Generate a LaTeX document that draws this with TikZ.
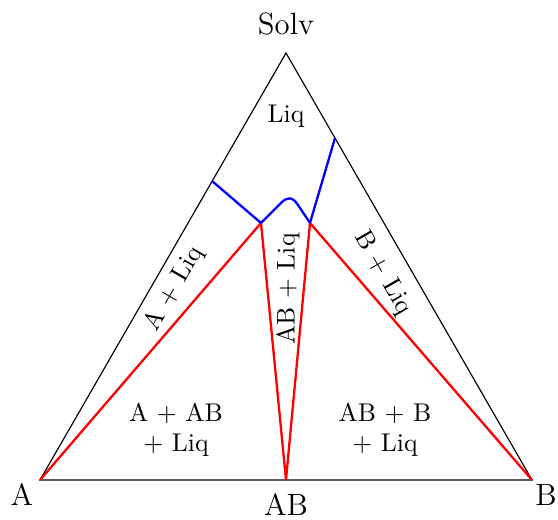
\documentclass[tikz,border=0pt]{standalone}
\usepackage{tikz}
\usetikzlibrary{arrows.meta}

\tikzset{
  edge/.style={draw=black,line width=0.45pt},
  solidus/.style={draw=red,line width=0.9pt},
  liquidus/.style={draw=blue,line width=0.9pt},
  corner/.style={inner sep=0pt,outer sep=0pt,font=\fontsize{12}{14.4}\selectfont},
  field/.style={inner sep=0pt,outer sep=0pt,align=center,font=\fontsize{10}{11.5}\selectfont},
}

\begin{document}
\begin{tikzpicture}[x=.39pt,y=-.39pt]
\path[use as bounding box] (0,0) rectangle (558,520);
\path[fill=white,draw=none] (0,0) rectangle (558,520);
% vertices of the triangle
\coordinate (A) at (40,480);
\coordinate (B) at (532,480);
\coordinate (S) at (286,53);
\coordinate (AB) at (286,480);
% eutectics and liquidus ends
\coordinate (e1) at (261,223);
\coordinate (e2) at (310,223);
\coordinate (l1) at (212,181);
\coordinate (l2) at (335,138);
\draw[edge] (A) -- (B) -- (S) -- cycle;
\draw[solidus] (A) -- (e1) -- (AB) -- (e2) -- (B);
\draw[liquidus] (l1) -- (e1);
\draw[liquidus] (e1) -- (281,203) .. controls (287,197) and (292,196) .. (298,205) -- (e2);
\draw[liquidus] (e2) -- (l2);
% labels
\node[corner,anchor=base] (solv) at (286,35) {Solv};
\node[corner,anchor=base] (la) at (22,506) {A};
\node[corner,anchor=base] (lab) at (286,516) {AB};
\node[corner,anchor=base] (lb) at (546,506) {B};
\node[field,anchor=base] (liq) at (286,123) {Liq};
\node[field,rotate=60] (aliq) at (174,289) {A + Liq};
\node[field,rotate=-60] (bliq) at (383,273) {B + Liq};
\node[field,rotate=90] (abliq) at (288,289) {AB + Liq};
\node[field] (aab) at (176,430) {A + AB\\+ Liq};
\node[field] (abb) at (385,430) {AB + B\\+ Liq};
\end{tikzpicture}
\end{document}
